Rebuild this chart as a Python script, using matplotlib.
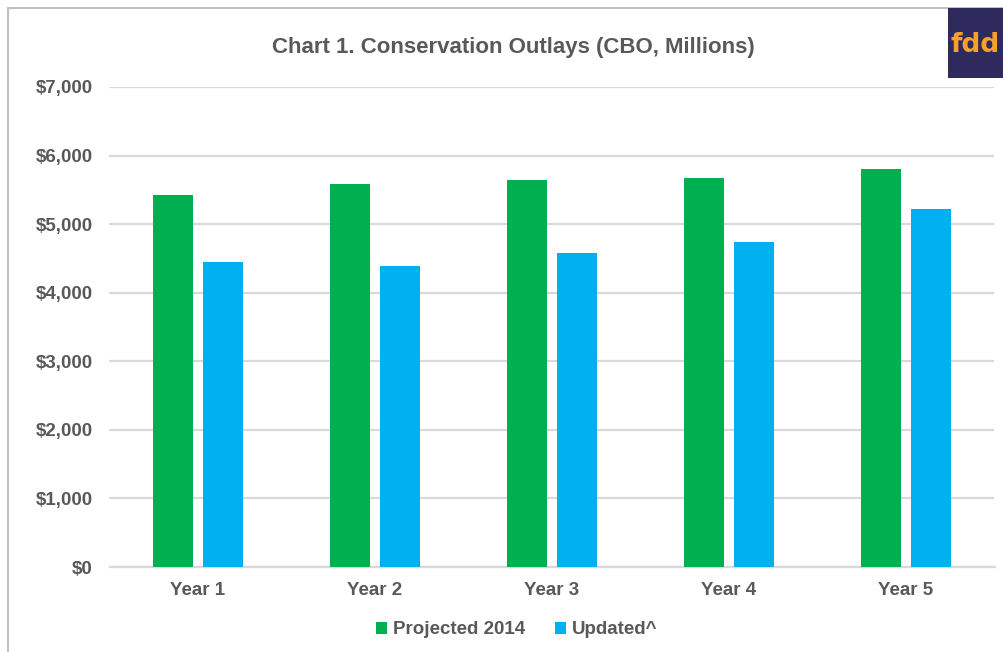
import matplotlib.pyplot as plt
import matplotlib.patches as mpatches
import numpy as np

plt.rcParams['font.family'] = ['Liberation Sans', 'DejaVu Sans']

years = ["Year 1", "Year 2", "Year 3", "Year 4", "Year 5"]
projected_2014 = [5420, 5580, 5650, 5675, 5810]
updated = [4450, 4390, 4575, 4740, 5220]
yticks = [0, 1000, 2000, 3000, 4000, 5000, 6000, 7000]

GREEN = "#00B050"
BLUE = "#00B0F0"
GREY = "#595959"

W, H = 1004, 652
fig = plt.figure(figsize=(W / 100, H / 100), dpi=100)

# outer frame of the excel chart (cut off at right/bottom)
fig.patches.append(mpatches.Rectangle((8 / W, -0.1), 1.2, 1 - 8 / H + 0.1,
                                      transform=fig.transFigure, fill=False,
                                      edgecolor="#BFBFBF", lw=1.5))

ax = fig.add_axes([109.5 / W, 1 - 567 / H, 885 / W, 480 / H])
x = np.arange(len(years))
w = 0.226
ax.bar(x - 0.144, projected_2014, w, color=GREEN, label="Projected 2014", zorder=3)
ax.bar(x + 0.144, updated, w, color=BLUE, label="Updated^", zorder=3)

ax.set_xlim(-0.5, len(years) - 0.5)
ax.set_ylim(0, 7000)
ax.set_yticks(yticks)
ax.set_yticklabels(["${:,}".format(v) for v in yticks])
ax.set_xticks(x)
ax.set_xticklabels(years)
ax.grid(axis="y", color="#D9D9D9", lw=1.6, zorder=0)
for s in ["top", "right", "left"]:
    ax.spines[s].set_visible(False)
ax.spines["bottom"].set_color("#D9D9D9")
ax.spines["bottom"].set_linewidth(1.6)
ax.tick_params(axis="both", length=0, labelsize=13.5, labelcolor=GREY)
ax.tick_params(axis="y", pad=12)
ax.tick_params(axis="x", pad=11)
for t in ax.get_xticklabels() + ax.get_yticklabels():
    t.set_fontweight("bold")

fig.text(513 / W, 1 - 47 / H, "Chart 1. Conservation Outlays (CBO, Millions)",
         ha="center", va="center", fontsize=16, fontweight="bold", color=GREY)

leg = ax.legend(loc="center", bbox_to_anchor=(517 / W, 1 - 630 / H),
                bbox_transform=fig.transFigure, ncol=2, frameon=False,
                handlelength=0.55, handleheight=0.55, handletextpad=0.35,
                columnspacing=1.6,
                prop={"weight": "bold", "size": 13.5})
for t in leg.get_texts():
    t.set_color(GREY)

# fdd logo in the corner
fig.patches.append(mpatches.Rectangle((948 / W, 1 - 78 / H), 60 / W, 70 / H,
                                      transform=fig.transFigure,
                                      facecolor="#2E2A5E", edgecolor="none",
                                      zorder=5))
fig.text(951 / W, 1 - 45 / H, "fdd", ha="left", va="center", fontsize=19,
         fontweight="bold", color="#F7A12B", family="DejaVu Sans", zorder=6)

fig.savefig("out.png", dpi=100, facecolor="white")
